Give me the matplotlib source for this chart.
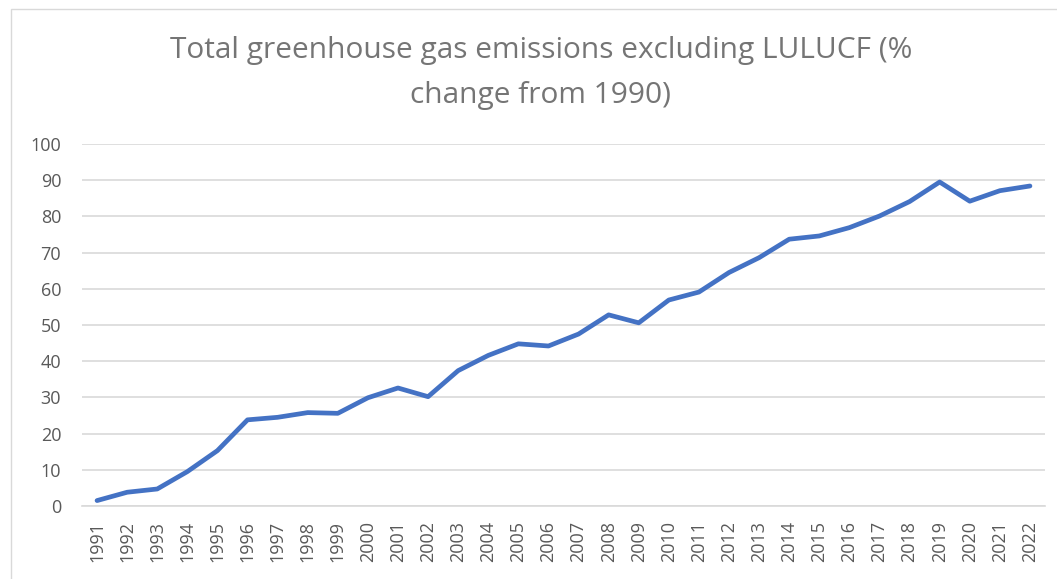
import matplotlib

matplotlib.use("Agg")
import matplotlib.pyplot as plt
from matplotlib.patches import Rectangle

LINE_COLOR = "#4472C4"
GRID_COLOR = "#D9D9D9"
TEXT_COLOR = "#595959"

years = [str(y) for y in range(1991, 2023)]
pct_change = [
    1.5, 3.8, 4.7, 9.5, 15.3, 23.8, 24.5, 25.8, 25.6, 29.9,
    32.6, 30.2, 37.4, 41.6, 44.8, 44.2, 47.5, 52.8, 50.6, 56.9,
    59.1, 64.5, 68.6, 73.7, 74.6, 76.9, 80.1, 84.1, 89.5, 84.2,
    87.1, 88.4,
]
y_ticks = list(range(0, 101, 10))
title = "Total greenhouse gas emissions excluding LULUCF (%\nchange from 1990)"

plt.rcParams["font.family"] = ["Open Sans", "DejaVu Sans"]

W, H = 1057, 579
fig = plt.figure(figsize=(W / 100, H / 100), dpi=100)

# chart border (Excel chart area), runs off the right/bottom edge
fig.patches.append(
    Rectangle((11 / W, -0.05), 1.2, 1 - 9 / H + 0.05, transform=fig.transFigure,
              fill=False, edgecolor=GRID_COLOR, linewidth=1.0)
)

ax = fig.add_axes([82 / W, 1 - 506 / H, (1045 - 82) / W, (506 - 144) / H])
x = range(len(years))
ax.plot(x, pct_change, color=LINE_COLOR, linewidth=3.4, solid_capstyle="round",
        solid_joinstyle="round", zorder=3)

ax.set_xlim(-0.5, len(years) - 0.5)
ax.set_ylim(0, 100)
ax.set_yticks(y_ticks)
ax.set_xticks(list(x))
ax.set_xticklabels(years, rotation=90)
ax.grid(axis="y", color=GRID_COLOR, linewidth=1.2)
ax.set_axisbelow(True)
for side in ["top", "right", "left"]:
    ax.spines[side].set_visible(False)
ax.spines["bottom"].set_color(GRID_COLOR)
ax.spines["bottom"].set_linewidth(1.2)
ax.tick_params(axis="both", length=0, colors=TEXT_COLOR, labelsize=13)
ax.tick_params(axis="y", pad=15)
ax.tick_params(axis="x", pad=11)

fig.text(541 / W, 1 - 36 / H, title, ha="center", va="top", fontsize=21.5,
         color="#757575", linespacing=1.75)

fig.savefig("out.png", dpi=100)
